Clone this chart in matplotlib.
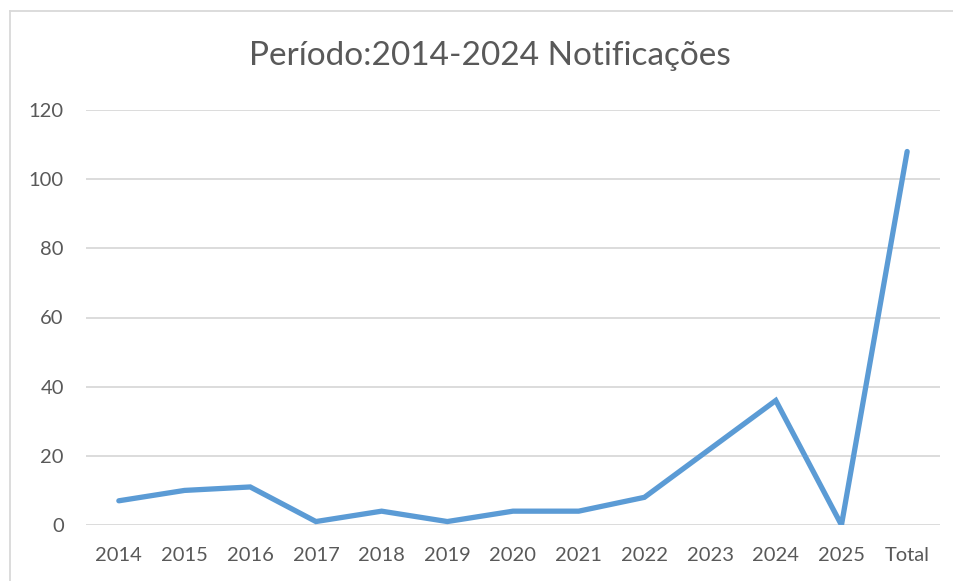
import matplotlib.pyplot as plt
from matplotlib.lines import Line2D

plt.rcParams["font.family"] = ["Lato", "DejaVu Sans"]

# Data
years = ["2014", "2015", "2016", "2017", "2018", "2019", "2020",
         "2021", "2022", "2023", "2024", "2025", "Total"]
notificacoes = [7, 10, 11, 1, 4, 1, 4, 4, 8, 22, 36, 0, 108]
yticks = [0, 20, 40, 60, 80, 100, 120]

W, H = 954, 581
fig = plt.figure(figsize=(W / 100, H / 100), dpi=100)
ax = fig.add_axes([86 / W, 1 - 525 / H, (940 - 86) / W, (525 - 110) / H])

text_color = "#595959"
grid_color = "#D9D9D9"

x = list(range(len(years)))
ax.plot(x, notificacoes, color="#5B9BD5", lw=3.8, solid_capstyle="round",
        solid_joinstyle="miter")

ax.set_xlim(-0.5, len(years) - 0.5)
ax.set_ylim(0, 120)
ax.set_yticks(yticks)
ax.set_xticks(x)
ax.set_xticklabels(years)
ax.yaxis.grid(True, color=grid_color, lw=1.3)
ax.set_axisbelow(True)
for s in ax.spines.values():
    s.set_visible(False)
ax.tick_params(axis="both", length=0, labelsize=14.5, labelcolor=text_color)
ax.tick_params(axis="y", pad=16)
ax.tick_params(axis="x", pad=16)

fig.text(490 / W, 1 - 56 / H, "Período:2014-2024 Notificações",
         ha="center", va="center", fontsize=24, color=text_color)

# chart frame (only top and left edges visible in the crop)
fig.add_artist(Line2D([10 / W, 10 / W], [0, 1 - 11 / H], color=grid_color,
                      lw=1.3, transform=fig.transFigure))
fig.add_artist(Line2D([10 / W, 1], [1 - 11 / H, 1 - 11 / H], color=grid_color,
                      lw=1.3, transform=fig.transFigure))

fig.savefig("out.png", dpi=100)
